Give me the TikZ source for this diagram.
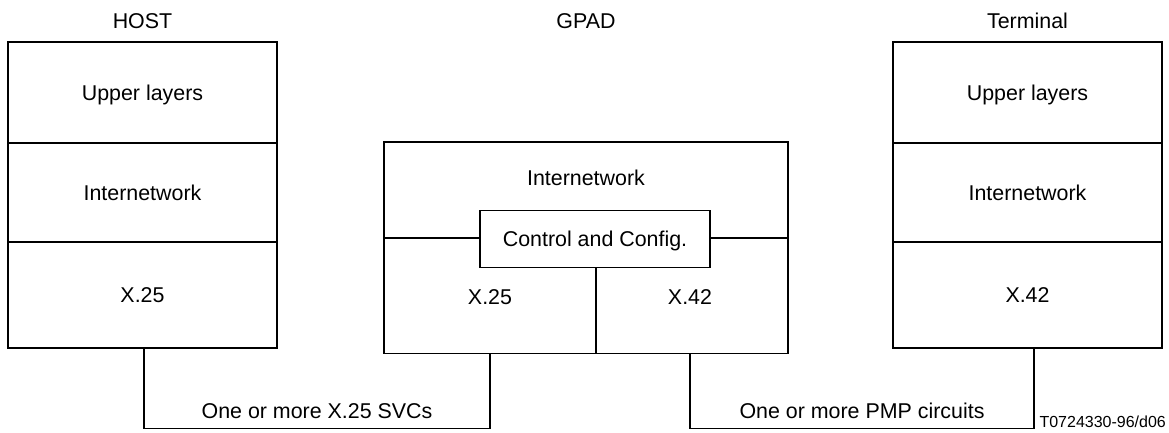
\documentclass[tikz,border=0pt]{standalone}
\usepackage{fontspec}
\setmainfont{Liberation Sans}
\begin{document}
\begin{tikzpicture}[x=1pt,y=-1pt,
  line width=1.1pt,
  every node/.style={font=\fontsize{21.4}{25}\selectfont, inner sep=0pt},
  cell/.style={draw, minimum width=269pt, minimum height=#1, text height=15pt, text depth=0pt},
  lbl/.style={text height=15pt, text depth=0pt},
  tag/.style={font=\fontsize{16}{18}\selectfont, anchor=base west}]
\useasboundingbox (0,0) rectangle (1169,432);

% titles
\node[lbl] (thost) at (142.5,20.5) {HOST};
\node[lbl] (tgpad) at (586,20.5) {GPAD};
\node[lbl] (tterm) at (1027.5,20.5) {Terminal};

% HOST stack
\node[cell=101pt] (h1) at (142.5,92.5) {Upper layers};
\node[cell=99pt]  (h2) at (142.5,192.5) {Internetwork};
\node[cell=106pt] (h3) at (142.5,295) {X.25};

% Terminal stack
\node[cell=101pt] (t1) at (1027.5,92.5) {Upper layers};
\node[cell=99pt]  (t2) at (1027.5,192.5) {Internetwork};
\node[cell=106pt] (t3) at (1027.5,295) {X.42};

% GPAD
\node[draw, minimum width=404pt, minimum height=211.5pt] (gpad) at (586,247.75) {};
\node[lbl] (ginet) at (586,177.5) {Internetwork};
\node[draw, minimum width=230pt, minimum height=57pt, text height=15pt, text depth=0pt] (ctrl) at (595,239) {Control and Config.};
\node[lbl] (gx25) at (490,296.5) {X.25};
\node[lbl] (gx42) at (690,296.5) {X.42};
\draw (gpad.west |- 0,238) -- (ctrl.west |- 0,238);
\draw (ctrl.east |- 0,238) -- (gpad.east |- 0,238);
\draw (ctrl.south -| 596,0) -- (gpad.south -| 596,0);

% links
\coordinate (bot) at (0,428.5);
\draw (h3.south -| 144,0) -- (bot -| 144,0) -| (gpad.south -| gx25);
\draw (gpad.south -| gx42) -- (bot -| gx42) -| (t3.south -| 1034,0);
\node[lbl] (l1) at (317,410.5) {One or more X.25 SVCs};
\node[lbl] (l2) at (862,410.5) {One or more PMP circuits};

\node[tag] (code) at (1039,427) {T0724330-96/d06};
\end{tikzpicture}
\end{document}
